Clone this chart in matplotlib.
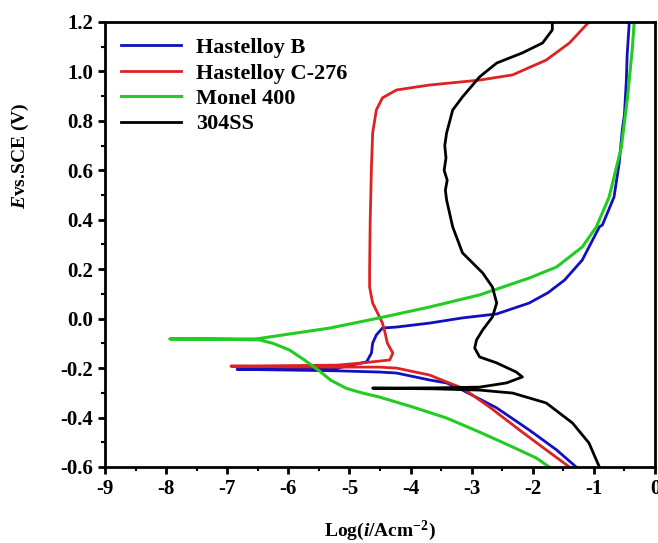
import matplotlib
matplotlib.use("Agg")
import matplotlib.pyplot as plt
from matplotlib.ticker import MultipleLocator, FormatStrFormatter

plt.rcParams['font.family'] = ['Liberation Serif', 'DejaVu Serif']
plt.rcParams['font.weight'] = 'bold'
plt.rcParams['axes.labelweight'] = 'bold'
plt.rcParams['axes.unicode_minus'] = False
plt.rcParams['mathtext.fontset'] = 'custom'
plt.rcParams['mathtext.rm'] = 'Liberation Serif:bold'
plt.rcParams['mathtext.it'] = 'Liberation Serif:italic:bold'
plt.rcParams['mathtext.bf'] = 'Liberation Serif:bold'

# Hastelloy B: cathodic branch (bottom -> Ecorr) then anodic branch
hb_logi = [-1.29, -1.61, -2.06, -2.59, -3.15, -3.41, -3.69, -4.23, -4.51, -5.2, -6.0, -6.84,
           -6.0, -5.2, -4.72, -4.64, -4.62, -4.56, -4.46, -4.23, -3.69, -3.15, -2.59, -2.06,
           -1.75, -1.48, -1.19, -0.91, -0.86, -0.67, -0.585, -0.535, -0.50, -0.47, -0.455, -0.42]
hb_e = [-0.60, -0.531, -0.450, -0.361, -0.289, -0.260, -0.248, -0.220, -0.216, -0.211, -0.208, -0.205,
        -0.204, -0.200, -0.175, -0.139, -0.099, -0.066, -0.038, -0.034, -0.018, 0.003, 0.019, 0.063,
        0.105, 0.156, 0.237, 0.371, 0.379, 0.492, 0.630, 0.763, 0.824, 0.957, 1.067, 1.20]

# Hastelloy C-276
hc_logi = [-1.40, -1.78, -2.22, -2.71, -3.15, -3.41, -3.69, -4.23, -4.51, -5.2, -6.0, -6.94,
           -6.0, -5.2, -4.78, -4.34, -4.29, -4.38, -4.42, -4.46, -4.54, -4.62, -4.67, -4.67,
           -4.66, -4.64, -4.62, -4.56, -4.46, -4.23, -3.69, -2.87, -2.33, -1.78, -1.40, -1.08]
hc_e = [-0.60, -0.531, -0.450, -0.357, -0.281, -0.256, -0.228, -0.200, -0.196, -0.196, -0.195, -0.192,
        -0.190, -0.188, -0.179, -0.167, -0.139, -0.099, -0.054, -0.018, 0.023, 0.063, 0.128, 0.197,
        0.40, 0.613, 0.751, 0.844, 0.893, 0.925, 0.945, 0.965, 0.986, 1.046, 1.115, 1.20]

# Monel 400
mo_logi = [-1.73, -1.94, -2.33, -2.87, -3.41, -3.97, -4.51, -4.80, -5.05, -5.30, -5.50, -5.75, -5.98,
           -6.25, -6.47, -7.2, -7.94,
           -7.2, -6.52, -6.09, -5.54, -5.32, -4.51, -3.69, -2.87, -2.06, -1.61, -1.19, -0.96,
           -0.75, -0.55, -0.45, -0.37, -0.34]
mo_e = [-0.60, -0.564, -0.519, -0.459, -0.402, -0.357, -0.317, -0.300, -0.282, -0.250, -0.210, -0.165, -0.127,
        -0.100, -0.086, -0.083, -0.082,
        -0.082, -0.082, -0.066, -0.046, -0.038, 0.003, 0.047, 0.096, 0.164, 0.209, 0.290, 0.371,
        0.492, 0.694, 0.893, 1.095, 1.20]

# 304SS
ss_logi = [-0.91, -1.08, -1.35, -1.78, -2.33, -2.87, -3.6, -4.62,
           -3.6, -2.87, -2.43, -2.17, -2.27, -2.59, -2.87, -2.95, -2.92, -2.82, -2.66, -2.59,
           -2.66, -2.82, -3.15, -3.31, -3.41, -3.43, -3.40, -3.45, -3.42, -3.44, -3.41, -3.31,
           -3.15, -2.87, -2.59, -2.17, -1.84, -1.68, -1.68]
ss_e = [-0.60, -0.503, -0.422, -0.341, -0.301, -0.289, -0.284, -0.281,
        -0.280, -0.277, -0.260, -0.236, -0.216, -0.179, -0.155, -0.119, -0.086, -0.046, 0.007, 0.063,
        0.128, 0.185, 0.266, 0.371, 0.480, 0.52, 0.56, 0.60, 0.65, 0.70, 0.751, 0.844,
        0.897, 0.978, 1.034, 1.075, 1.115, 1.168, 1.20]

fig = plt.figure(figsize=(6.58, 5.43), dpi=100)
ax = fig.add_axes([0.1596, 0.140, 0.8358, 0.8195])

ax.plot(hb_logi, hb_e, color='#1010c0', lw=2, label='Hastelloy B')
ax.plot(hc_logi, hc_e, color='#dd2222', lw=2, label='Hastelloy C-276')
ax.plot(mo_logi, mo_e, color='#22cc22', lw=2.2, label='Monel 400')
ax.plot(ss_logi, ss_e, color='black', lw=2, label='304SS')

ax.set_xlim(-9, 0)
ax.set_ylim(-0.6, 1.2)
ax.xaxis.set_major_locator(MultipleLocator(1))
ax.xaxis.set_minor_locator(MultipleLocator(0.5))
ax.yaxis.set_major_locator(MultipleLocator(0.2))
ax.yaxis.set_minor_locator(MultipleLocator(0.1))
ax.yaxis.set_major_formatter(FormatStrFormatter('%.1f'))
ax.tick_params(which='major', length=5, width=2, labelsize=15, top=False, right=False)
ax.tick_params(which='minor', length=3, width=1.5, top=False, right=False)
for s in ax.spines.values():
    s.set_linewidth(2)

ax.set_xlabel('Log($\\mathit{i}$/Acm$^{-2}$)', fontsize=14, labelpad=14)
ax.set_ylabel('$\\mathit{E}$vs.SCE (V)', fontsize=14)
ax.yaxis.set_label_coords(-0.135, 0.70)

ax.legend(loc='upper left', frameon=False, fontsize=16, handlelength=2.7,
          handletextpad=0.7, labelspacing=0.22, borderaxespad=0.3)

fig.savefig('out.png', dpi=100)
